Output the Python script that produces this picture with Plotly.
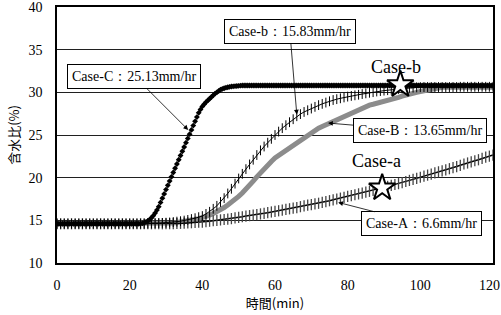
import plotly.graph_objects as go

# ---- data ----
time_1min = list(range(0, 121))
time_half = [i * 0.5 for i in range(0, 241)]

case_A = ([14.6] * 31 +
          [14.61, 14.62, 14.63, 14.65, 14.67, 14.7, 14.72, 14.75, 14.78, 14.8,
           14.85, 14.9, 14.95, 15.0, 15.05, 15.1, 15.15, 15.2, 15.28, 15.35,
           15.42, 15.5, 15.55, 15.6, 15.68, 15.75, 15.82, 15.9, 15.98, 16.05,
           16.12, 16.2, 16.28, 16.35, 16.42, 16.5, 16.6, 16.7, 16.78, 16.85,
           16.92, 17.0, 17.1, 17.2, 17.3, 17.4, 17.5, 17.6, 17.7, 17.8,
           17.9, 18.0, 18.1, 18.2, 18.3, 18.4, 18.5, 18.6, 18.72, 18.85,
           18.98, 19.1, 19.2, 19.3, 19.42, 19.55, 19.68, 19.8, 19.92, 20.05,
           20.18, 20.3, 20.42, 20.55, 20.68, 20.8, 20.92, 21.05, 21.18, 21.3,
           21.45, 21.6, 21.72, 21.85, 21.98, 22.1, 22.25, 22.4, 22.52, 22.65])

case_b = ([14.6] * 25 +
          [14.62, 14.63, 14.65, 14.67, 14.7, 14.72, 14.75, 14.8, 14.85, 14.9,
           14.97, 15.05, 15.15, 15.25, 15.37, 15.5, 15.75, 16.0, 16.35, 16.7,
           17.15, 17.6, 18.15, 18.7, 19.3, 19.9, 20.45, 21.0, 21.55, 22.1,
           22.65, 23.2, 23.65, 24.1, 24.55, 25.0, 25.4, 25.8, 26.15, 26.5,
           26.85, 27.2, 27.45, 27.7, 27.9, 28.1, 28.3, 28.5, 28.65, 28.8,
           28.95, 29.1, 29.2, 29.3, 29.4, 29.5, 29.58, 29.65, 29.72, 29.8,
           29.88, 29.95, 30.02, 30.1, 30.15, 30.2, 30.25, 30.3, 30.35, 30.4,
           30.45, 30.5, 30.52, 30.55, 30.58, 30.6] +
          [30.62] * 10 + [30.65] * 10)

case_B = ([14.6] * 29 +
          [14.62, 14.65, 14.67, 14.7, 14.75, 14.8, 14.85, 14.9, 15.0, 15.1,
           15.2, 15.3, 15.45, 15.6, 15.8, 16.0, 16.25, 16.5, 16.8, 17.1,
           17.45, 17.8, 18.2, 18.6, 19.1, 19.6, 20.1, 20.6, 21.05, 21.5,
           21.9, 22.3, 22.6, 22.9, 23.2, 23.5, 23.8, 24.1, 24.4, 24.7,
           25.0, 25.3, 25.55, 25.8, 26.0, 26.2, 26.4, 26.6, 26.8, 27.0,
           27.2, 27.4, 27.6, 27.8, 28.0, 28.2, 28.35, 28.5, 28.6, 28.7,
           28.8, 28.9, 29.0, 29.1, 29.25, 29.4, 29.55, 29.7, 29.8, 29.9,
           30.0, 30.1, 30.2, 30.3, 30.4, 30.5, 30.55, 30.6] +
          [30.6] * 14)

case_C = ([14.6] * 46 +
          [14.62, 14.65, 14.7, 14.8, 14.92, 15.08, 15.3, 15.55, 15.85, 16.2,
           16.6, 17.1, 17.6, 18.1, 18.6, 19.1, 19.6, 20.1, 20.6, 21.1,
           21.6, 22.1, 22.6, 23.1, 23.6, 24.1, 24.6, 25.1, 25.6, 26.1,
           26.6, 27.1, 27.6, 28.0, 28.35, 28.6, 28.85, 29.05, 29.25, 29.45,
           29.65, 29.85, 30.0, 30.15, 30.3, 30.4, 30.48, 30.55, 30.6, 30.64,
           30.68, 30.7, 30.72, 30.74, 30.76, 30.78] +
          [30.8] * 139)

star_x = [94.5, 89.5]
star_y = [30.9, 18.8]
star_labels = ["Case-b", "Case-a"]
star_label_pos = [(93.2, 33.0), (88.0, 22.0)]

callout_texts = ["Case-C\uff1a25.13mm/hr", "Case-b\uff1a15.83mm/hr",
                 "Case-B\uff1a13.65mm/hr", "Case-A\uff1a6.6mm/hr"]
callout_tips = [(36.1, 25.6), (66.0, 27.4), (74.6, 26.4), (77.4, 17.1)]
callout_boxes = [(21.3, 31.9), (64.1, 37.1), (99.8, 25.5), (100.2, 14.6)]

x_ticks = [0, 20, 40, 60, 80, 100, 120]
x_tick_labels = ["0", "20", "40", "60", "80", "100", "120\u2002"]
y_ticks = [10, 15, 20, 25, 30, 35, 40]

SERIF = "Liberation Serif"
CJK = "Noto Sans CJK JP"

fig = go.Figure()

fig.add_trace(go.Scatter(x=time_1min, y=case_B, mode="lines",
                         line=dict(color="#8c8c8c", width=5), name="Case-B",
                         showlegend=False))
fig.add_trace(go.Scatter(x=time_1min, y=case_A, mode="lines+markers",
                         line=dict(color="black", width=1.5),
                         marker=dict(symbol="line-ns", size=8,
                                     line=dict(color="#444444", width=1.3)),
                         name="Case-A", showlegend=False))
fig.add_trace(go.Scatter(x=time_1min, y=case_b, mode="lines+markers",
                         line=dict(color="black", width=1),
                         marker=dict(symbol="line-ns", size=7,
                                     line=dict(color="black", width=1)),
                         name="Case-b", showlegend=False))
fig.add_trace(go.Scatter(x=time_half, y=case_C, mode="markers",
                         marker=dict(symbol="diamond", size=4.5, color="black"),
                         name="Case-C", showlegend=False))
fig.add_trace(go.Scatter(x=star_x, y=star_y, mode="markers",
                         marker=dict(symbol="star", size=20, color="white",
                                     line=dict(color="black", width=2)),
                         showlegend=False))

annotations = []
for txt, (tx, ty), (bx, by) in zip(callout_texts, callout_tips, callout_boxes):
    annotations.append(dict(
        x=tx, y=ty, xref="x", yref="y", ax=bx, ay=by, axref="x", ayref="y",
        text=txt, showarrow=True, arrowhead=2, arrowsize=1.2, arrowwidth=0.8,
        arrowcolor="black", bordercolor="black", borderwidth=1, borderpad=4,
        bgcolor="white", font=dict(family=SERIF, size=14, color="black")))
for txt, (lx, ly) in zip(star_labels, star_label_pos):
    annotations.append(dict(x=lx, y=ly, xref="x", yref="y", text=txt,
                            showarrow=False,
                            font=dict(family=SERIF, size=18, color="black")))

fig.update_layout(
    width=501, height=315,
    margin=dict(l=57, r=8, t=7, b=52, autoexpand=False),
    paper_bgcolor="white", plot_bgcolor="white",
    font=dict(family=SERIF, size=14, color="black"),
    annotations=annotations,
    xaxis=dict(range=[0, 120], tickvals=x_ticks, ticktext=x_tick_labels,
               showgrid=False,
               showline=True, linecolor="black", linewidth=1.5, mirror=True,
               ticks="", ticklabelstandoff=8, zeroline=False, automargin=False,
               ticklabeloverflow="allow",
               tickfont=dict(family=SERIF, size=14),
               title=dict(text="時間(min)", standoff=4,
                          font=dict(family=CJK, size=13))),
    yaxis=dict(range=[10, 40], tickvals=y_ticks, showgrid=True,
               gridcolor="#202020", gridwidth=1,
               showline=True, linecolor="black", linewidth=1.5, mirror=True,
               ticks="", ticklabelstandoff=10, zeroline=False, automargin=False,
               ticklabeloverflow="allow",
               tickfont=dict(family=SERIF, size=14),
               title=dict(text="含水比(%)", standoff=6,
                          font=dict(family=CJK, size=13))),
)

fig.write_html("out.html", post_script="document.body.style.margin='0';",
               config={"displayModeBar": False})
